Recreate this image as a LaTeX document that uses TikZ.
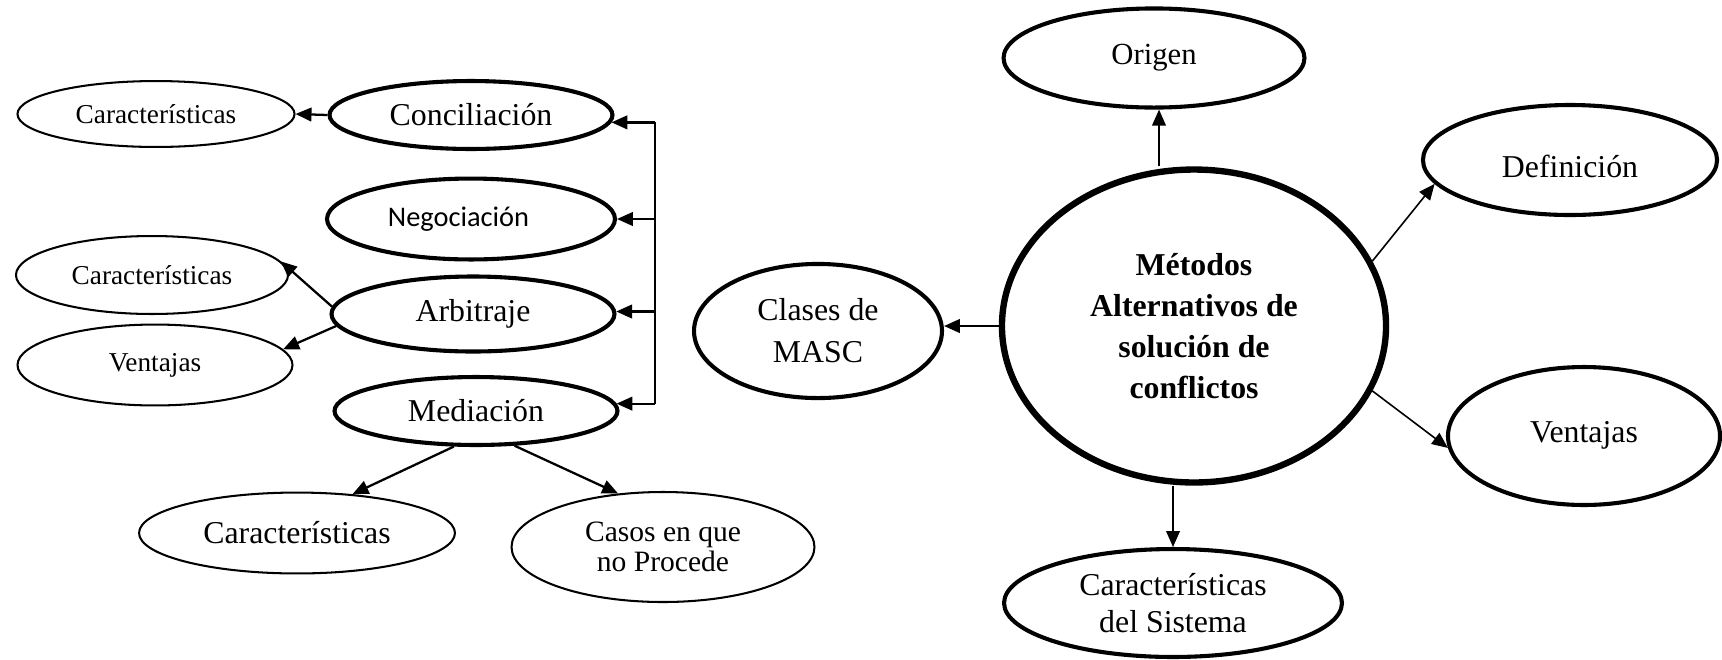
\documentclass[tikz,border=0pt]{standalone}
\usepackage{fontspec}
\setmainfont{Liberation Serif}
\newfontfamily\calibri{Carlito}
\usetikzlibrary{shapes.geometric,arrows.meta,positioning}

\begin{document}
\begin{tikzpicture}[x=0.44pt,y=-0.44pt,
		elip/.style  = {draw, ellipse, inner sep=0pt, line width=0.9pt, align=center, font=\fontsize{12}{14}\selectfont},
		elipg/.style = {elip, line width=1.8pt, font=\fontsize{14}{16.5}\selectfont},
		root/.style  = {elipg, line width=2.8pt, font=\bfseries\fontsize{14}{18}\selectfont},
		flecha/.style = {->, line width=1pt},
		fina/.style = {->, line width=0.7pt},
		>={Triangle[length=7pt,width=6pt]}]
	
	\useasboundingbox (0,0) rectangle (1722,659);
	
	% centro y ramas de la derecha
	\node[root, minimum width=169pt, minimum height=137.7pt] (root) at (1194,326) {Métodos\\Alternativos de\\solución de\\conflictos};
	\node[elipg, minimum width=132.4pt, minimum height=43.6pt, font=\fontsize{13.5}{16}\selectfont] (c1) at (1154,58) {Origen};
	\node[elipg, minimum width=129.4pt, minimum height=48.4pt, text height=15.5pt, text depth=0pt] (c2) at (1570,160) {Definición};
	\node[elipg, minimum width=119.7pt, minimum height=60.7pt, text height=9.5pt, text depth=4pt] (c3) at (1584,436) {Ventajas};
	\node[elipg, minimum width=148.7pt, minimum height=47.5pt] (c4) at (1173,603) {Características\\del Sistema};
	\node[elipg, minimum width=109.1pt, minimum height=59pt, font=\fontsize{14}{18.5}\selectfont] (c5) at (818,331) {Clases de\\MASC};
	
	% clases de MASC
	\node[elipg, minimum width=124.5pt, minimum height=29.9pt] (m1) at (471,115) {Conciliación};
	\node[elipg, minimum width=126.7pt, minimum height=35.6pt, font=\calibri\fontsize{12.5}{15}\selectfont] (m2) at (471,219) {Negociación\hspace*{11pt}};
	\node[elipg, minimum width=124.5pt, minimum height=33pt] (m3) at (473,314) {Arbitraje};
	\node[elipg, minimum width=124.5pt, minimum height=29.9pt] (m4) at (476,411) {Mediación};
	
	\node[elip, minimum width=121.9pt, minimum height=29pt] (m11) at (156,114) {Características};
	\node[elip, minimum width=119.7pt, minimum height=34.3pt] (m31) at (152,275) {Características};
	\node[elip, minimum width=121pt, minimum height=35.6pt] (m32) at (155,365) {Ventajas};
	\node[elip, minimum width=139pt, minimum height=35.6pt, font=\fontsize{14}{16.5}\selectfont] (m41) at (297,533) {Características};
	\node[elip, minimum width=133.3pt, minimum height=48.4pt, font=\fontsize{13}{13}\selectfont] (m42) at (663,547) {Casos en que\\no Procede};
	
	\draw[fina] ([xshift=2.2pt]root.north -| c1.south) -- ([xshift=2.2pt]c1.south);
	\draw[fina] (root.20) -- (c2.190);
	\draw[fina] (root.340) -- (c3.185);
	\draw[fina] (root.south -| c4.north) -- (c4.north);
	\draw[flecha] (root.west) -- (root.west -| c5.east);
	
	\coordinate (bus) at (655,0);
	\draw[line width=1pt] (m1.357 -| bus) -- (m4.3 -| bus);
	\foreach \i/\a in {1/357,2/0,3/1,4/3}
	\draw[flecha] (m\i.\a -| bus) -- (m\i.\a);
	
	\draw[flecha] (m1.west) -- (m11.east);
	\draw[flecha] (m3.177) -- (m31.6);
	\draw[flecha] (m3.185) -- (m32.7);
	\draw[flecha] (m4.238) -- (m41.35);
	\draw[flecha] (m4.318) -- (m42.130);
\end{tikzpicture}
\end{document}
